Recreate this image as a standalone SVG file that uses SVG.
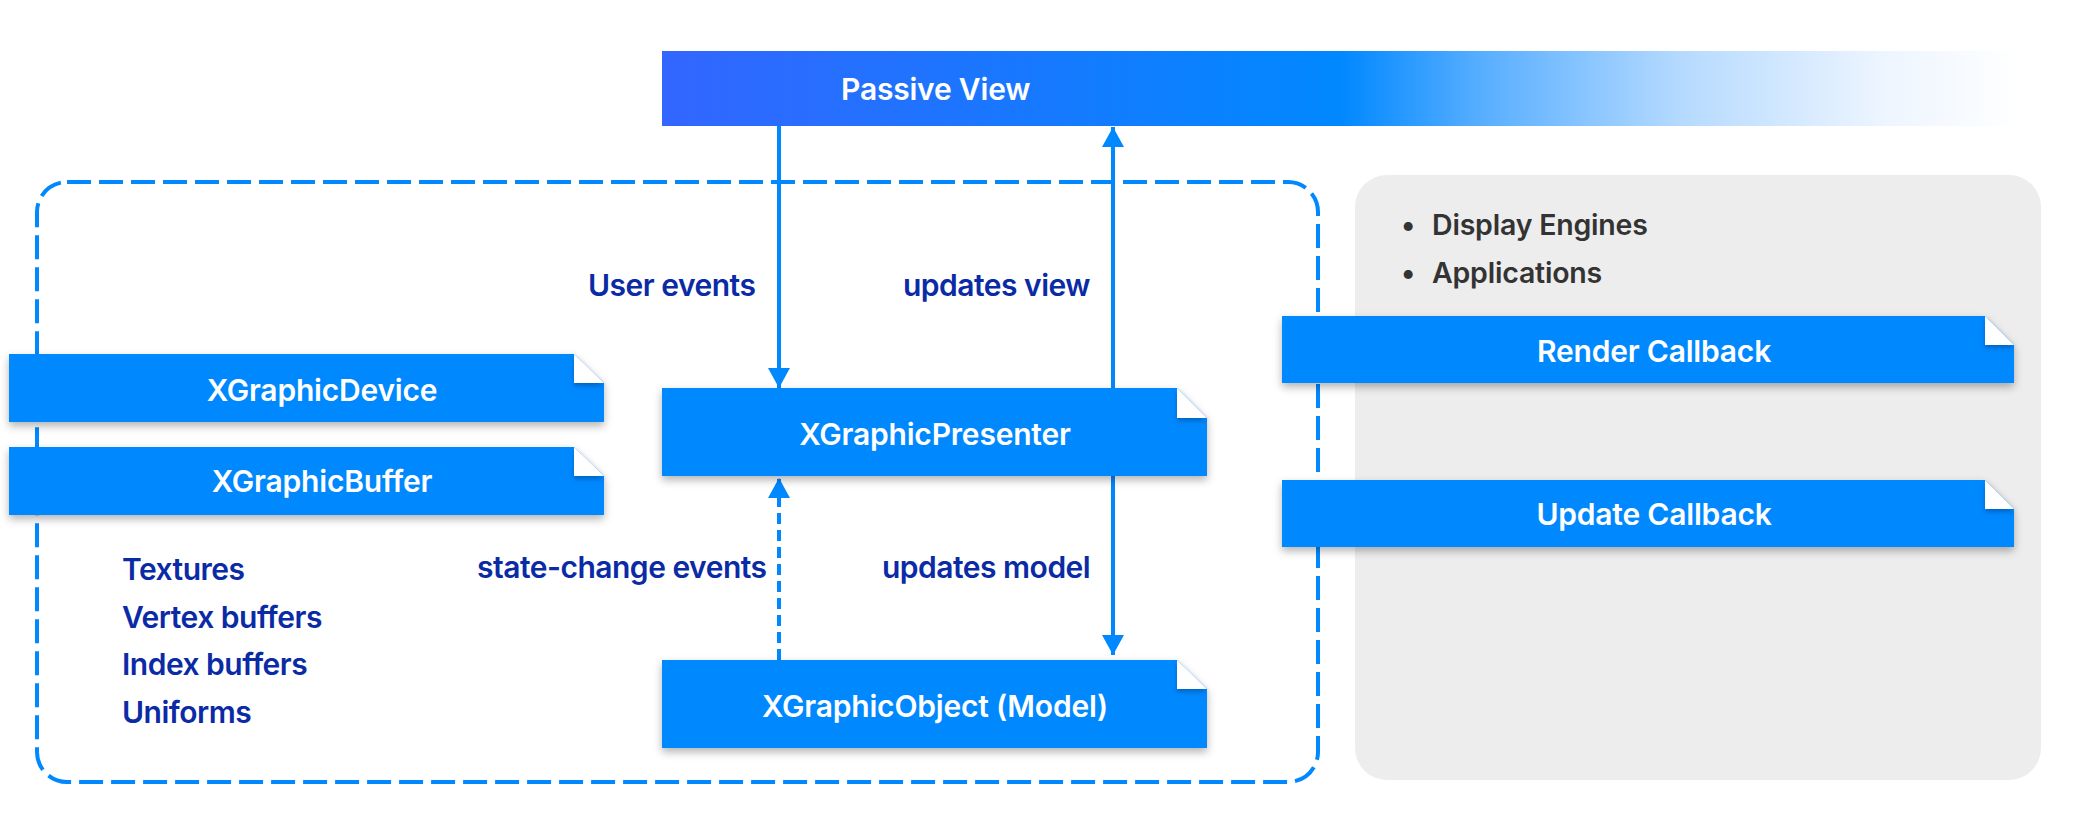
<svg xmlns="http://www.w3.org/2000/svg" width="2088" height="819" viewBox="0 0 2088 819">
  <defs>
    <linearGradient id="pvGrad" x1="662" y1="0" x2="2020" y2="0" gradientUnits="userSpaceOnUse">
      <stop offset="0" stop-color="#3366FF"/>
      <stop offset="0.5" stop-color="#0088FF"/>
      <stop offset="0.6" stop-color="#55ADFF"/>
      <stop offset="0.75" stop-color="#B5DAFF"/>
      <stop offset="0.9" stop-color="#EDF5FF"/>
      <stop offset="1" stop-color="#FFFFFF"/>
    </linearGradient>
    <filter id="shadow" x="-5%" y="-20%" width="110%" height="160%">
      <feDropShadow dx="0" dy="4" stdDeviation="4" flood-color="#000" flood-opacity="0.3"/>
    </filter>
    <filter id="flapShadow" x="-50%" y="-50%" width="200%" height="200%">
      <feDropShadow dx="0" dy="3" stdDeviation="2" flood-color="#003a80" flood-opacity="0.45"/>
    </filter>
    <marker id="arrow" markerUnits="userSpaceOnUse" markerWidth="22" markerHeight="22" refX="20" refY="11" orient="auto">
      <path d="M0,0 L20,11 L0,22 Z" fill="#0088FF"/>
    </marker>
    <style>
      .node { fill: #0088FF; filter: url(#shadow); }
      .flap { fill: #FFFFFF; filter: url(#flapShadow); }
      .nlabel { font-family: Inter, "Liberation Sans", sans-serif; font-weight: 600; font-size: 30px; letter-spacing: -0.2px; fill: #FFFFFF; text-anchor: middle; }
      .elabel { font-family: Inter, "Liberation Sans", sans-serif; font-weight: 600; font-size: 30px; letter-spacing: -0.5px; fill: #0B2BA6; }
      .bullet { font-family: Inter, "Liberation Sans", sans-serif; font-weight: 600; font-size: 28.5px; letter-spacing: -0.2px; fill: #333333; }
      .conn { stroke: #0088FF; stroke-width: 4; fill: none; }
      .dashbox { stroke: #0088FF; stroke-width: 4; fill: none; stroke-dasharray: 24 8; }
    </style>
  </defs>

  <!-- background panel for consumers -->
  <g id="consumers-panel">
    <rect x="1355" y="175" width="686" height="605" rx="32" fill="#EDEDED"/>
    <text class="bullet" x="1401" y="235">•</text>
    <text class="bullet" x="1432" y="235">Display Engines</text>
    <text class="bullet" x="1401" y="283">•</text>
    <text class="bullet" x="1432" y="283">Applications</text>
  </g>

  <!-- dashed boundary -->
  <g id="boundary">
    <rect class="dashbox" x="37" y="182" width="1281" height="600" rx="30"/>
  </g>

  <!-- Passive View -->
  <g id="passive-view">
    <rect x="662" y="51" width="1358" height="75" fill="url(#pvGrad)"/>
    <text class="nlabel" x="841" y="100" style="text-anchor:start">Passive View</text>
  </g>

  <!-- connectors -->
  <g id="connectors">
    <line class="conn" x1="779" y1="126" x2="779" y2="388" marker-end="url(#arrow)"/>
    <line class="conn" x1="1113" y1="388" x2="1113" y2="127" marker-end="url(#arrow)"/>
    <line class="conn" x1="779" y1="660" x2="779" y2="478" stroke-dasharray="11 6" marker-end="url(#arrow)"/>
    <line class="conn" x1="1113" y1="476" x2="1113" y2="655" marker-end="url(#arrow)"/>
    <text class="elabel" x="588" y="296">User events</text>
    <text class="elabel" x="903" y="296">updates view</text>
    <text class="elabel" x="477" y="578">state-change events</text>
    <text class="elabel" x="882" y="578">updates model</text>
  </g>

  <g id="xgraphic-device">
    <path class="node" d="M9,354 H574 L604,383 V422 H9 Z"/>
    <path class="flap" d="M574,354 L604,383 H574 Z"/>
    <text class="nlabel" x="322" y="401">XGraphicDevice</text>
  </g>

  <g id="xgraphic-buffer">
    <path class="node" d="M9,447 H574 L604,476 V515 H9 Z"/>
    <path class="flap" d="M574,447 L604,476 H574 Z"/>
    <text class="nlabel" x="322" y="492">XGraphicBuffer</text>
  </g>

  <g id="buffer-contents">
    <text class="elabel" x="122" y="580">Textures</text>
    <text class="elabel" x="122" y="628">Vertex buffers</text>
    <text class="elabel" x="122" y="675">Index buffers</text>
    <text class="elabel" x="122" y="723">Uniforms</text>
  </g>

  <g id="xgraphic-presenter">
    <path class="node" d="M662,388 H1177 L1207,418 V476 H662 Z"/>
    <path class="flap" d="M1177,388 L1207,418 H1177 Z"/>
    <text class="nlabel" x="935" y="445">XGraphicPresenter</text>
  </g>

  <g id="xgraphic-object">
    <path class="node" d="M662,660 H1177 L1207,689 V748 H662 Z"/>
    <path class="flap" d="M1177,660 L1207,689 H1177 Z"/>
    <text class="nlabel" x="935" y="717">XGraphicObject (Model)</text>
  </g>

  <g id="render-callback">
    <path class="node" d="M1282,316 H1985 L2014,345 V383 H1282 Z"/>
    <path class="flap" d="M1985,316 L2014,345 H1985 Z"/>
    <text class="nlabel" x="1654" y="362">Render Callback</text>
  </g>

  <g id="update-callback">
    <path class="node" d="M1282,480 H1985 L2014,509 V547 H1282 Z"/>
    <path class="flap" d="M1985,480 L2014,509 H1985 Z"/>
    <text class="nlabel" x="1654" y="525">Update Callback</text>
  </g>
</svg>
